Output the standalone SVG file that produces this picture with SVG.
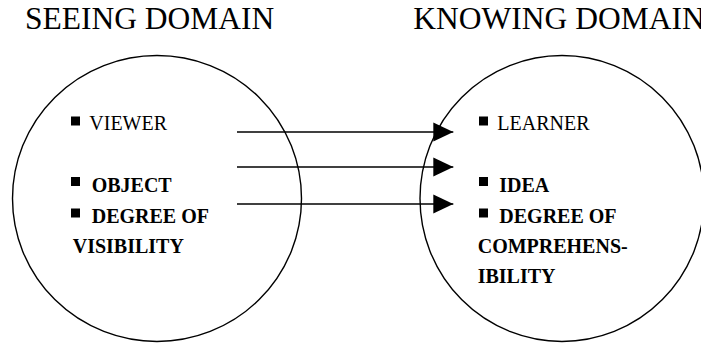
<svg xmlns="http://www.w3.org/2000/svg" width="701" height="343" viewBox="0 0 701 343">
  <style>
    .title { font-family: "Liberation Serif", "Times New Roman", serif; font-size: 31.5px; fill: #000; }
    .item { font-family: "Liberation Serif", "Times New Roman", serif; font-size: 20px; fill: #000; }
    .bold { font-weight: bold; }
    .domain { fill: none; stroke: #000; stroke-width: 1.4; }
    .bullet { fill: #000; }
    .link { stroke: #000; stroke-width: 1.4; fill: none; marker-end: url(#head); }
  </style>
  <defs>
    <marker id="head" markerUnits="userSpaceOnUse" markerWidth="20" markerHeight="20" refX="20" refY="9.5" orient="auto" overflow="visible">
      <path d="M0,0 L20,9.5 L0,19 Z" fill="#000"/>
    </marker>
  </defs>
  <rect width="701" height="343" fill="#fff"/>

  <!-- Seeing domain -->
  <g id="seeing-domain">
    <text class="title" x="25" y="29.3">SEEING DOMAIN</text>
    <ellipse class="domain" cx="157" cy="198.5" rx="144.5" ry="143"/>
    <rect class="bullet" x="71" y="116.5" width="9" height="9"/>
    <text class="item" x="89.3" y="130">VIEWER</text>
    <rect class="bullet" x="71" y="177" width="9" height="9"/>
    <text class="item bold" x="91.7" y="191.7">OBJECT</text>
    <rect class="bullet" x="71" y="208.5" width="9" height="9"/>
    <text class="item bold" x="91.7" y="223.3">DEGREE OF</text>
    <text class="item bold" x="72.7" y="253.3">VISIBILITY</text>
  </g>

  <!-- Knowing domain -->
  <g id="knowing-domain">
    <text class="title" x="413.3" y="29.3">KNOWING DOMAIN</text>
    <ellipse class="domain" cx="562" cy="198.5" rx="142" ry="143"/>
    <rect class="bullet" x="479" y="116.5" width="9" height="9"/>
    <text class="item" x="497.3" y="130">LEARNER</text>
    <rect class="bullet" x="479" y="177" width="9" height="9"/>
    <text class="item bold" x="499.3" y="191.7">IDEA</text>
    <rect class="bullet" x="479" y="208.5" width="9" height="9"/>
    <text class="item bold" x="499.3" y="223.3">DEGREE OF</text>
    <text class="item bold" x="477.7" y="253">COMPREHENS-</text>
    <text class="item bold" x="477.7" y="282.7">IBILITY</text>
  </g>

  <!-- Mappings from seeing to knowing -->
  <g id="connectors">
    <line class="link" x1="237" y1="132" x2="453.3" y2="132"/>
    <line class="link" x1="237" y1="167" x2="453.3" y2="167"/>
    <line class="link" x1="237" y1="204" x2="453.3" y2="204"/>
  </g>
</svg>
